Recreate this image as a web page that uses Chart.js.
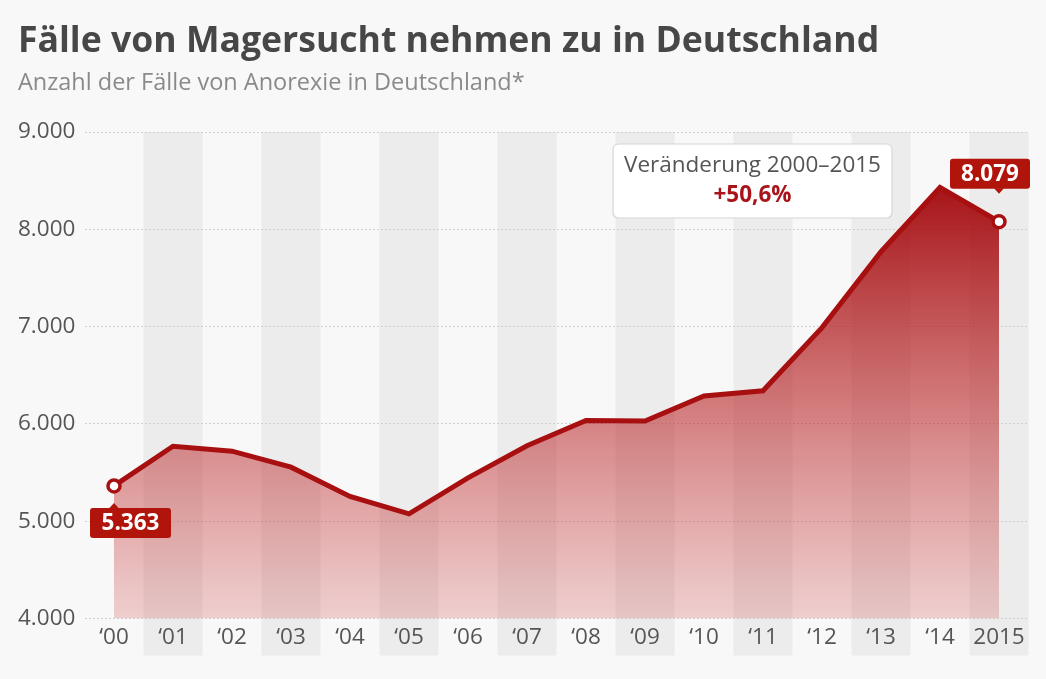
<!DOCTYPE html>
<html>
<head>
<meta charset="utf-8">
<script src="https://cdn.jsdelivr.net/npm/chart.js@4.4.1/dist/chart.umd.min.js"></script>
<style>
  html, body { margin: 0; padding: 0; background: #f8f8f8; }
  #wrap { width: 1046px; height: 679px; position: relative; }
</style>
</head>
<body>
<div id="wrap"><canvas id="c" width="1046" height="679"></canvas></div>
<script>
// ---- data ----
const categories = ['\u201800','\u201801','\u201802','\u201803','\u201804','\u201805','\u201806','\u201807','\u201808','\u201809','\u201810','\u201811','\u201812','\u201813','\u201814','2015'];
const cases = [5363, 5770, 5720, 5555, 5255, 5075, 5445, 5775, 6035, 6030, 6287, 6340, 6990, 7770, 8430, 8079];
const yTicks = [4000, 5000, 6000, 7000, 8000, 9000];
const titleText = 'Fälle von Magersucht nehmen zu in Deutschland';
const subtitleText = 'Anzahl der Fälle von Anorexie in Deutschland*';
const changeLabel = 'Veränderung 2000\u20132015';
const changeValue = '+50,6%';

const RED = '#a80f10';
const BOX = '#b0140b';
const FONT = "'Open Sans', 'Noto Sans', sans-serif";
const TXT = 22.5;

function fmt(v) {
  return String(Math.round(v)).replace(/\B(?=(\d{3})+(?!\d))/g, '.');
}

const bandsPlugin = {
  id: 'bands',
  beforeDraw(chart) {
    const { ctx, chartArea, scales } = chart;
    const x = scales.x;
    const step = x.getPixelForValue(1) - x.getPixelForValue(0);
    ctx.save();
    ctx.fillStyle = '#ececec';
    for (let i = 1; i < categories.length; i += 2) {
      const cx = x.getPixelForValue(i);
      ctx.fillRect(cx - step / 2, chartArea.top, step, chartArea.bottom - chartArea.top + 37);
    }
    ctx.restore();
  }
};

function roundRect(ctx, x, y, w, h, r) {
  ctx.beginPath();
  ctx.moveTo(x + r, y);
  ctx.lineTo(x + w - r, y);
  ctx.quadraticCurveTo(x + w, y, x + w, y + r);
  ctx.lineTo(x + w, y + h - r);
  ctx.quadraticCurveTo(x + w, y + h, x + w - r, y + h);
  ctx.lineTo(x + r, y + h);
  ctx.quadraticCurveTo(x, y + h, x, y + h - r);
  ctx.lineTo(x, y + r);
  ctx.quadraticCurveTo(x, y, x + r, y);
  ctx.closePath();
}

const labelsPlugin = {
  id: 'labels',
  afterDatasetsDraw(chart) {
    const { ctx, chartArea } = chart;
    const meta = chart.getDatasetMeta(0);
    const first = meta.data[0];
    const last = meta.data[meta.data.length - 1];
    ctx.save();
    ctx.font = `bold ${TXT}px ${FONT}`;
    ctx.textAlign = 'center';
    ctx.textBaseline = 'middle';
    // first value label (below point)
    {
      const w = 81, h = 30;
      const bx = first.x - 24, by = first.y + 22;
      ctx.fillStyle = BOX;
      roundRect(ctx, bx, by, w, h, 3);
      ctx.fill();
      ctx.beginPath();
      ctx.moveTo(first.x - 5, by + 0.5);
      ctx.lineTo(first.x, by - 5);
      ctx.lineTo(first.x + 5, by + 0.5);
      ctx.fill();
      ctx.fillStyle = '#fff';
      ctx.fillText(fmt(cases[0]), bx + w / 2, by + h / 2 + 1);
    }
    // last value label (above point)
    {
      const w = 80, h = 30;
      const bx = last.x - 49, by = last.y - 63;
      ctx.fillStyle = BOX;
      roundRect(ctx, bx, by, w, h, 3);
      ctx.fill();
      ctx.beginPath();
      ctx.moveTo(last.x - 5, by + h - 0.5);
      ctx.lineTo(last.x, by + h + 5);
      ctx.lineTo(last.x + 5, by + h - 0.5);
      ctx.fill();
      ctx.fillStyle = '#fff';
      ctx.fillText(fmt(cases[cases.length - 1]), bx + w / 2, by + h / 2 + 1);
    }
    // change box
    {
      const w = 279, h = 74;
      const bx = chartArea.left + 528.5, by = chartArea.top + 12;
      ctx.fillStyle = '#ffffff';
      ctx.strokeStyle = '#d6d6d6';
      ctx.lineWidth = 1.2;
      roundRect(ctx, bx, by, w, h, 6);
      ctx.fill();
      ctx.stroke();
      ctx.font = `${TXT}px ${FONT}`;
      ctx.fillStyle = '#555555';
      ctx.fillText(changeLabel, bx + w / 2, by + 22);
      ctx.font = `bold ${TXT}px ${FONT}`;
      ctx.fillStyle = '#a8141a';
      ctx.fillText(changeValue, bx + w / 2, by + 52);
    }
    ctx.restore();
  }
};

const lastIdx = cases.length - 1;

new Chart(document.getElementById('c'), {
  type: 'line',
  data: {
    labels: categories,
    datasets: [{
      data: cases,
      borderColor: RED,
      borderWidth: 5,
      tension: 0,
      fill: 'start',
      backgroundColor(ctx) {
        const { chart } = ctx;
        const { chartArea, scales } = chart;
        if (!chartArea) return 'rgba(180,30,30,0.5)';
        const top = scales.y.getPixelForValue(Math.max(...cases));
        const g = chart.ctx.createLinearGradient(0, top, 0, chartArea.bottom);
        g.addColorStop(0, 'rgba(163,12,16,0.97)');
        g.addColorStop(1, 'rgba(205,60,60,0.22)');
        return g;
      },
      pointRadius: (c) => (c.dataIndex === 0 || c.dataIndex === lastIdx) ? 6 : 0,
      pointHoverRadius: (c) => (c.dataIndex === 0 || c.dataIndex === lastIdx) ? 6 : 0,
      pointBackgroundColor: '#ffffff',
      pointBorderColor: RED,
      pointBorderWidth: 3.5
    }]
  },
  options: {
    responsive: false,
    animation: false,
    devicePixelRatio: 1,
    layout: { padding: { left: 18, right: 17.5, top: 0, bottom: 22.5 } },
    plugins: {
      legend: { display: false },
      tooltip: { enabled: false },
      title: {
        display: true,
        text: titleText,
        align: 'start',
        color: '#474747',
        font: { family: FONT, size: 35.6, weight: 'bold' },
        padding: { top: 20, bottom: 6.5 }
      },
      subtitle: {
        display: true,
        text: subtitleText,
        align: 'start',
        color: '#8a8a8a',
        font: { family: FONT, size: 23.5 },
        padding: { top: 0, bottom: 34.6 }
      }
    },
    scales: {
      x: {
        offset: true,
        grid: { display: false, drawTicks: false },
        border: { display: false },
        ticks: { color: '#555555', font: { family: FONT, size: TXT }, padding: 5.5, maxRotation: 0, autoSkip: false }
      },
      y: {
        min: 4000,
        max: 9000,
        afterBuildTicks(scale) { scale.ticks = yTicks.map(v => ({ value: v })); },
        afterFit(scale) { scale.width = 66.5; },
        grid: { color: '#cfcfcf', lineWidth: 1, drawTicks: false },
        border: { display: false, dash: [2, 2] },
        ticks: {
          color: '#555555',
          font: { family: FONT, size: TXT },
          crossAlign: 'far',
          padding: 0,
          callback: (v) => fmt(v)
        }
      }
    }
  },
  plugins: [bandsPlugin, labelsPlugin]
});
</script>
</body>
</html>
